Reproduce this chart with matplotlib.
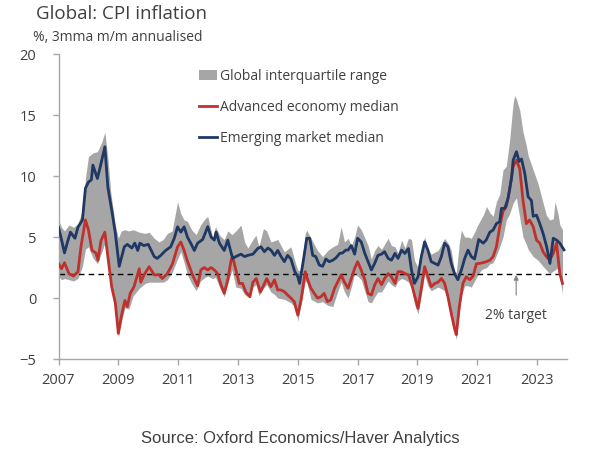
import matplotlib
matplotlib.use("Agg")
import matplotlib.pyplot as plt
from matplotlib.patches import Patch
from matplotlib.lines import Line2D

# Emerging market median (decimal year, %)
em_x = [2007.00, 2007.10, 2007.20, 2007.30, 2007.40, 2007.55, 2007.65, 2007.80, 2007.90, 2008.00,
        2008.10, 2008.15, 2008.30, 2008.40, 2008.55, 2008.65, 2008.80, 2008.90, 2009.03, 2009.20,
        2009.30, 2009.45, 2009.55, 2009.65, 2009.72, 2009.85, 2010.00, 2010.20, 2010.30, 2010.42,
        2010.58, 2010.75, 2010.87, 2010.98, 2011.09, 2011.20, 2011.31, 2011.42, 2011.54, 2011.65,
        2011.82, 2011.99, 2012.10, 2012.21, 2012.27, 2012.38, 2012.54, 2012.66, 2012.82, 2012.93,
        2013.10, 2013.22, 2013.33, 2013.50, 2013.66, 2013.77, 2013.88, 2014.00, 2014.10, 2014.22,
        2014.33, 2014.44, 2014.55, 2014.66, 2014.77, 2014.90, 2015.00, 2015.06, 2015.17, 2015.30,
        2015.40, 2015.50, 2015.60, 2015.72, 2015.83, 2015.94, 2016.05, 2016.17, 2016.28, 2016.40,
        2016.50, 2016.60, 2016.68, 2016.79, 2016.90, 2017.00, 2017.12, 2017.24, 2017.35, 2017.46,
        2017.57, 2017.68, 2017.80, 2017.90, 2018.02, 2018.13, 2018.25, 2018.35, 2018.47, 2018.58,
        2018.70, 2018.80, 2018.90, 2019.02, 2019.13, 2019.24, 2019.35, 2019.46, 2019.58, 2019.69,
        2019.80, 2019.91, 2020.02, 2020.13, 2020.24, 2020.35, 2020.47, 2020.58, 2020.69, 2020.80,
        2020.91, 2021.05, 2021.20, 2021.30, 2021.42, 2021.53, 2021.64, 2021.75, 2021.81, 2021.92,
        2022.03, 2022.15, 2022.20, 2022.31, 2022.40, 2022.48, 2022.59, 2022.70, 2022.81, 2022.87,
        2022.98, 2023.09, 2023.20, 2023.32, 2023.43, 2023.54, 2023.65, 2023.76, 2023.90]
em_y = [5.8, 4.8, 3.7, 4.6, 5.4, 4.9, 5.8, 6.4, 9.0, 9.5,
        9.7, 10.9, 9.8, 10.8, 12.4, 9.1, 6.9, 5.3, 2.6, 4.2,
        4.4, 4.1, 4.5, 3.9, 4.5, 4.3, 4.4, 3.4, 3.25, 3.5,
        3.9, 4.2, 4.9, 5.84, 5.4, 5.84, 5.0, 4.5, 3.9, 4.5,
        4.8, 5.85, 5.0, 4.75, 5.4, 4.5, 3.9, 4.75, 3.25, 3.4,
        3.6, 3.4, 3.5, 3.6, 4.06, 4.2, 3.8, 4.1, 3.93, 3.5,
        3.9, 3.4, 2.98, 3.5, 3.2, 2.16, 1.75, 1.2, 2.84, 4.9,
        4.9, 3.5, 3.4, 2.7, 2.6, 3.2, 2.98, 3.1, 3.3, 3.66,
        3.7, 3.93, 3.93, 4.3, 3.6, 4.9, 4.6, 3.66, 2.98, 2.3,
        2.84, 3.5, 3.6, 3.8, 3.25, 3.1, 3.66, 3.25, 3.93, 3.66,
        4.06, 2.3, 1.2, 1.75, 3.4, 4.6, 3.93, 2.98, 2.84, 2.7,
        3.4, 4.5, 4.2, 2.84, 2.0, 1.5, 2.3, 3.25, 3.93, 3.4,
        3.2, 4.8, 4.5, 4.76, 5.4, 5.57, 6.1, 6.26, 7.35, 7.35,
        8.17, 9.9, 11.3, 12.0, 11.2, 11.4, 10.2, 8.3, 8.0, 6.7,
        6.8, 6.1, 5.3, 4.2, 2.84, 4.9, 4.75, 4.5, 3.95]

# Advanced economy median
ae_x = [2007.00, 2007.10, 2007.20, 2007.35, 2007.50, 2007.65, 2007.75, 2007.90, 2008.00, 2008.12,
        2008.25, 2008.32, 2008.42, 2008.55, 2008.65, 2008.78, 2008.90, 2009.00, 2009.10, 2009.22,
        2009.30, 2009.40, 2009.52, 2009.70, 2009.75, 2009.86, 2010.03, 2010.20, 2010.36, 2010.47,
        2010.64, 2010.81, 2010.98, 2011.09, 2011.20, 2011.30, 2011.48, 2011.65, 2011.76, 2011.87,
        2011.99, 2012.10, 2012.21, 2012.32, 2012.43, 2012.54, 2012.66, 2012.77, 2012.82, 2012.93,
        2013.04, 2013.15, 2013.26, 2013.40, 2013.50, 2013.61, 2013.75, 2013.85, 2013.96, 2014.10,
        2014.22, 2014.33, 2014.44, 2014.55, 2014.66, 2014.77, 2014.88, 2015.00, 2015.11, 2015.25,
        2015.33, 2015.44, 2015.55, 2015.66, 2015.77, 2015.88, 2015.99, 2016.10, 2016.23, 2016.35,
        2016.45, 2016.56, 2016.68, 2016.79, 2016.90, 2017.00, 2017.12, 2017.24, 2017.35, 2017.46,
        2017.57, 2017.68, 2017.80, 2017.90, 2018.02, 2018.13, 2018.25, 2018.35, 2018.47, 2018.58,
        2018.70, 2018.80, 2018.90, 2019.02, 2019.13, 2019.24, 2019.35, 2019.46, 2019.58, 2019.69,
        2019.80, 2019.91, 2020.02, 2020.13, 2020.24, 2020.30, 2020.40, 2020.52, 2020.63, 2020.75,
        2020.86, 2020.97, 2021.08, 2021.19, 2021.30, 2021.42, 2021.53, 2021.64, 2021.75, 2021.86,
        2021.97, 2022.08, 2022.20, 2022.31, 2022.42, 2022.53, 2022.64, 2022.75, 2022.87, 2022.98,
        2023.09, 2023.20, 2023.31, 2023.42, 2023.54, 2023.65, 2023.76, 2023.85]
ae_y = [2.84, 2.4, 2.9, 2.0, 1.8, 2.15, 4.2, 6.4, 5.6, 3.9,
        3.7, 3.1, 4.7, 5.4, 3.4, 0.9, -0.4, -2.9, -1.5, -0.2,
        -0.7, 0.4, 0.9, 2.4, 1.3, 1.9, 2.57, 1.9, 1.9, 1.6,
        2.0, 2.8, 4.2, 4.6, 3.9, 3.1, 1.9, 1.0, 2.3, 2.5,
        2.3, 2.5, 2.3, 2.0, 1.1, 0.4, 1.5, 3.1, 3.4, 2.3,
        1.2, 1.2, 0.5, 0.1, 1.3, 1.6, 0.5, 1.0, 1.6, 0.93,
        1.5, 0.66, 0.66, 0.52, 0.25, 0.0, -0.3, -1.4, -0.16, 2.16,
        1.5, 0.8, 0.38, 0.0, 0.1, 0.38, -0.3, -0.16, 0.8, 1.4,
        1.9, 1.3, 0.8, 1.6, 2.43, 2.98, 2.3, 1.5, 0.38, 0.25,
        1.07, 1.6, 1.1, 1.6, 2.0, 1.75, 1.2, 2.16, 2.16, 2.0,
        1.9, 1.2, 0.25, -0.84, 0.8, 2.57, 1.75, 0.93, 1.2, 1.3,
        1.6, 1.2, 0.11, -1.26, -2.5, -3.0, -0.7, 1.2, 1.75, 1.5,
        1.8, 2.8, 2.84, 2.9, 2.98, 3.1, 3.4, 4.2, 5.85, 7.1,
        7.5, 8.85, 10.8, 11.3, 10.6, 8.0, 6.1, 6.4, 5.85, 4.76,
        4.5, 3.8, 3.4, 3.1, 3.66, 4.5, 2.0, 1.2]

# Global interquartile range
iqr_x = [2007.00, 2007.10, 2007.20, 2007.35, 2007.50, 2007.65, 2007.80, 2007.90, 2008.00, 2008.15,
         2008.30, 2008.45, 2008.55, 2008.65, 2008.75, 2008.90, 2009.00, 2009.10, 2009.22, 2009.35,
         2009.50, 2009.70, 2009.90, 2010.03, 2010.20, 2010.36, 2010.50, 2010.64, 2010.80, 2010.98,
         2011.09, 2011.20, 2011.31, 2011.45, 2011.60, 2011.75, 2011.90, 2011.99, 2012.15, 2012.25,
         2012.40, 2012.54, 2012.66, 2012.80, 2012.93, 2013.10, 2013.22, 2013.33, 2013.50, 2013.60,
         2013.70, 2013.85, 2013.96, 2014.10, 2014.22, 2014.33, 2014.55, 2014.77, 2014.93, 2015.00,
         2015.11, 2015.25, 2015.30, 2015.44, 2015.66, 2015.83, 2016.00, 2016.17, 2016.33, 2016.45,
         2016.56, 2016.68, 2016.79, 2016.90, 2017.00, 2017.12, 2017.35, 2017.46, 2017.57, 2017.68,
         2017.80, 2017.90, 2018.02, 2018.13, 2018.25, 2018.35, 2018.47, 2018.58, 2018.70, 2018.80,
         2018.90, 2019.02, 2019.13, 2019.24, 2019.35, 2019.46, 2019.69, 2019.91, 2020.05, 2020.13,
         2020.24, 2020.30, 2020.40, 2020.47, 2020.58, 2020.69, 2020.80, 2020.91, 2021.02, 2021.13,
         2021.20, 2021.31, 2021.42, 2021.53, 2021.64, 2021.75, 2021.86, 2021.97, 2022.08, 2022.20,
         2022.25, 2022.31, 2022.42, 2022.53, 2022.64, 2022.70, 2022.87, 2023.03, 2023.20, 2023.31,
         2023.42, 2023.54, 2023.60, 2023.70, 2023.76, 2023.85]
iqr_lo = [1.8, 1.5, 1.6, 1.5, 1.4, 1.6, 2.6, 4.0, 4.2, 3.3,
          2.8, 3.8, 4.5, 2.8, 0.8, -0.8, -3.2, -2.0, -0.8, -0.9,
          0.2, 0.8, 1.2, 1.3, 1.3, 1.3, 1.3, 1.5, 2.1, 3.2,
          3.8, 2.9, 1.9, 1.2, 0.6, 1.4, 1.7, 1.8, 1.6, 1.7,
          0.8, 0.1, 1.2, 2.3, 0.9, 0.8, 0.3, 0.1, 0.9, 1.1,
          0.2, 0.8, 1.1, 0.5, 0.3, 0.0, -0.1, -0.4, -0.8, -1.9,
          -0.5, 1.4, 1.3, -0.1, -0.4, -0.3, -0.6, -0.7, 0.5, 1.3,
          0.5, 0.0, 0.9, 2.0, 1.8, 1.5, -0.3, -0.4, 0.1, 0.5,
          0.5, 0.9, 1.4, 1.1, 0.9, 1.4, 1.6, 1.5, 1.3, 0.8,
          -0.5, -1.3, 0.3, 1.9, 1.0, 0.6, 0.9, 0.6, -0.4, -1.5,
          -2.8, -3.4, -1.2, 0.2, 1.0, 1.0, 0.9, 1.4, 1.9, 2.3,
          2.4, 2.5, 2.8, 2.9, 3.5, 4.2, 5.0, 6.4, 6.9, 7.8,
          8.0, 8.2, 6.6, 5.0, 4.4, 4.0, 3.4, 3.1, 2.6, 2.3,
          2.0, 2.2, 2.3, 2.5, 1.6, 0.4]
iqr_hi = [6.4, 5.8, 5.5, 6.0, 5.8, 6.1, 7.2, 9.8, 11.6, 11.9,
          12.0, 12.8, 13.6, 11.5, 8.6, 6.0, 4.9, 5.5, 5.6, 5.5,
          5.6, 5.4, 5.3, 5.4, 4.9, 4.6, 4.8, 5.3, 5.5, 7.9,
          6.9, 6.4, 6.3, 5.6, 5.2, 6.0, 6.5, 6.7, 5.0, 5.85,
          5.1, 4.8, 5.5, 5.2, 5.5, 5.98, 4.6, 4.1, 4.8, 5.16,
          4.2, 5.7, 5.5, 4.6, 4.7, 4.8, 3.8, 4.2, 2.8, 2.3,
          2.2, 5.3, 5.57, 4.9, 3.9, 3.4, 3.9, 4.2, 4.4, 5.85,
          4.6, 4.9, 4.3, 5.0, 6.0, 5.6, 4.3, 3.2, 3.9, 4.3,
          4.0, 4.4, 4.9, 4.3, 4.2, 3.7, 4.75, 4.1, 4.9, 4.8,
          3.1, 2.5, 4.0, 5.0, 4.0, 3.6, 3.9, 4.9, 4.4, 3.9,
          2.2, 2.1, 4.5, 5.57, 5.0, 5.0, 4.9, 5.4, 6.0, 6.5,
          6.8, 7.5, 7.0, 6.7, 7.9, 8.5, 10.5, 10.8, 12.9, 16.0,
          16.6, 16.3, 15.4, 13.6, 12.5, 11.7, 10.5, 9.4, 7.8, 6.8,
          6.4, 6.5, 7.9, 6.9, 6.0, 5.6]

target = 2.0
year_ticks = list(range(2007, 2024, 2))
y_ticks = [-5, 0, 5, 10, 15, 20]

text_col = "#404040"
axis_col = "#a6a6a6"
band_col = "#a6a6a6"
red = "#c0302c"
blue = "#1f3864"

plt.rcParams["font.family"] = ["Open Sans", "DejaVu Sans"]

fig = plt.figure(figsize=(6, 4.53), dpi=100)
ax = fig.add_axes([0.0975, 0.2075, 0.8475, 0.673])

ax.fill_between(iqr_x, iqr_lo, iqr_hi, color=band_col, lw=0, zorder=1)
ax.axhline(target, color="black", lw=1.0, ls=(0, (4, 3)), zorder=2)
ax.plot(ae_x, ae_y, color=red, lw=2.0, zorder=3)
ax.plot(em_x, em_y, color=blue, lw=2.0, zorder=4)

ax.set_xlim(2007, 2024)
ax.set_ylim(-5, 20)
ax.set_xticks(year_ticks)
ax.set_xticklabels([str(y) for y in year_ticks])
ax.set_yticks(y_ticks)
for s in ["top", "right"]:
    ax.spines[s].set_visible(False)
for s in ["left", "bottom"]:
    ax.spines[s].set_color(axis_col)
    ax.spines[s].set_linewidth(1.0)
ax.tick_params(colors=axis_col, labelcolor=text_col, labelsize=10.5, length=4, width=1.0)
ax.tick_params(axis="y", pad=12)
ax.tick_params(axis="x", pad=6)

# 2% target annotation
ax.annotate("2% target", xy=(2022.3, target), xytext=(2022.3, -1.4),
            ha="center", va="center", fontsize=10, color=text_col,
            arrowprops=dict(arrowstyle="-|>", color="#808080", lw=0.8,
                            mutation_scale=7, shrinkA=7, shrinkB=1))

handles = [Patch(facecolor=band_col, edgecolor="none"),
           Line2D([0], [0], color=red, lw=2.0),
           Line2D([0], [0], color=blue, lw=2.0)]
labels = ["Global interquartile range", "Advanced economy median", "Emerging market median"]
leg = ax.legend(handles, labels, loc="upper left", bbox_to_anchor=(0.265, 0.97),
                frameon=False, fontsize=10, labelspacing=1.15, handlelength=1.3,
                handletextpad=0.2, borderaxespad=0)
for t in leg.get_texts():
    t.set_color(text_col)

fig.text(0.06, 0.969, "Global: CPI inflation", fontsize=13.5, color=text_col, va="center")
fig.text(0.055, 0.918, "%, 3mma m/m annualised", fontsize=10, color=text_col, va="center")
fig.text(0.5, 0.033, "Source: Oxford Economics/Haver Analytics", fontsize=12,
         color=text_col, ha="center", va="center", family="Liberation Sans")

fig.savefig("out.png", dpi=100)
